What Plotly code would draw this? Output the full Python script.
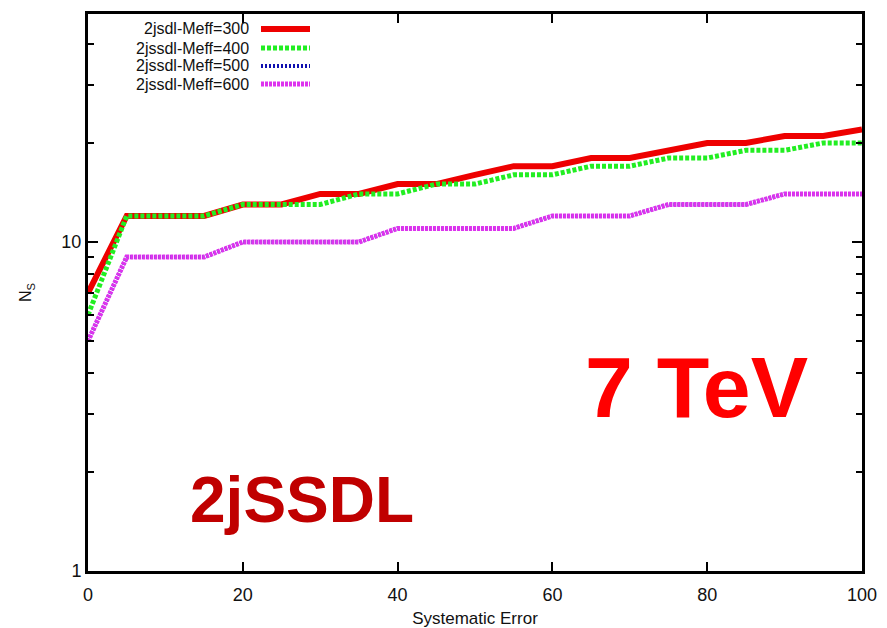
import plotly.graph_objects as go

x_err = [0, 5, 10, 15, 20, 25, 30, 35, 40, 45, 50, 55, 60, 65, 70, 75, 80, 85, 90, 95, 100]
ns_300 = [7, 12, 12, 12, 13, 13, 14, 14, 15, 15, 16, 17, 17, 18, 18, 19, 20, 20, 21, 21, 22]
ns_400 = [6, 12, 12, 12, 13, 13, 13, 14, 14, 15, 15, 16, 16, 17, 17, 18, 18, 19, 19, 20, 20]
ns_500 = [5, 9, 9, 9, 10, 10, 10, 10, 11, 11, 11, 11, 12, 12, 12, 13, 13, 13, 14, 14, 14]
ns_600 = [5, 9, 9, 9, 10, 10, 10, 10, 11, 11, 11, 11, 12, 12, 12, 13, 13, 13, 14, 14, 14]
names = ["2jsdl-Meff=300", "2jssdl-Meff=400", "2jssdl-Meff=500", "2jssdl-Meff=600"]
x_ticks = [0, 20, 40, 60, 80, 100]
y_ticks = [1, 10]
y_minor = [2, 3, 4, 5, 6, 7, 8, 9, 20, 30, 40]

colors = ["#ee0000", "#22ee22", "#1010b0", "#dd33ee"]
dashes = ["solid", "4px,2px", "2px,2px", "3px,1px"]
widths = [6, 5, 4, 5]

FONT = "Liberation Sans, Arial"

fig = go.Figure()
for vals, name, c, d, w in zip([ns_300, ns_400, ns_500, ns_600], names, colors, dashes, widths):
    fig.add_trace(go.Scatter(x=x_err, y=vals, mode="lines", name=name,
                             line=dict(color=c, dash=d, width=w), showlegend=False))

# custom legend (text right-aligned, sample on right)
leg_y = [29, 48, 66, 84]
for i, (name, c, d, w) in enumerate(zip(names, colors, dashes, widths)):
    yp = (571 - leg_y[i]) / 557
    fig.add_annotation(x=(251 - 88) / 774, y=yp, xref="paper", yref="paper",
                       text=name, showarrow=False, xanchor="right", yanchor="middle",
                       font=dict(family=FONT, size=16, color="#111"))
    fig.add_shape(type="line", xref="paper", yref="paper",
                  x0=(261 - 88) / 774, x1=(310 - 88) / 774, y0=yp, y1=yp,
                  line=dict(color=c, dash=d, width=w))

fig.add_annotation(x=(583 - 88) / 774, y=(571 - 387) / 557, xref="paper", yref="paper",
                   text="<b>7 TeV</b>", showarrow=False, xanchor="left", yanchor="middle",
                   font=dict(family=FONT, size=86, color="#ff0000"))
fig.add_annotation(x=(188 - 88) / 774, y=(571 - 500) / 557, xref="paper", yref="paper",
                   text="<b>2jSSDL</b>", showarrow=False, xanchor="left", yanchor="middle",
                   font=dict(family=FONT, size=64, color="#c00000"))

axis_common = dict(showline=True, linecolor="black", linewidth=3, mirror="ticks",
                   ticks="inside", tickcolor="black", tickwidth=2, showgrid=False,
                   zeroline=False, automargin=False,
                   tickfont=dict(family=FONT, size=18, color="#111"))

fig.update_xaxes(range=[0, 100], tickvals=x_ticks, ticklen=9, ticklabelstandoff=5,
                 title=dict(text="Systematic Error", font=dict(family=FONT, size=17, color="#111"), standoff=12),
                 **axis_common)
fig.update_yaxes(type="log", range=[0, 1.693], tickvals=y_ticks, ticktext=["1", "10"], ticklen=10,
                 minor=dict(tickvals=y_minor, ticks="inside", ticklen=6, tickcolor="black", tickwidth=2, showgrid=False),
                 title=dict(text="N<sub>S</sub>", font=dict(family=FONT, size=16, color="#111"), standoff=26),
                 **axis_common)

fig.update_layout(width=887, height=628, margin=dict(l=88, r=25, t=14, b=57),
                  plot_bgcolor="white", paper_bgcolor="white")
fig.write_html("out.html", post_script="document.body.style.margin='0';",
               config={"displayModeBar": False})
